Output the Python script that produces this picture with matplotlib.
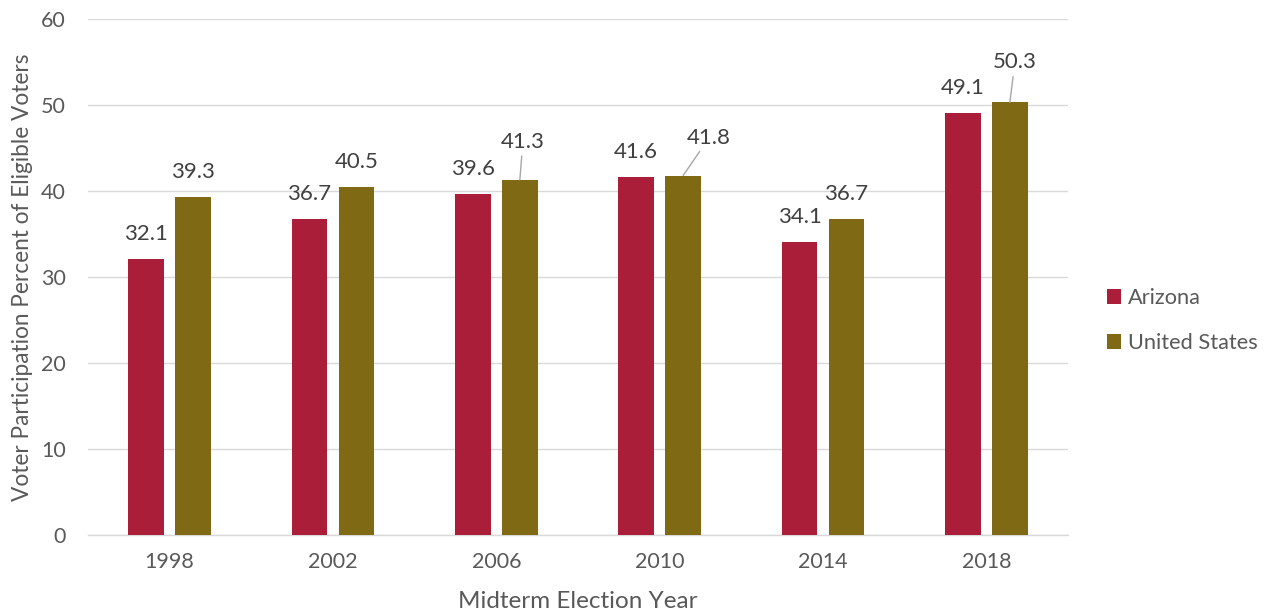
import matplotlib.pyplot as plt
import numpy as np

plt.rcParams['font.family'] = ['Lato', 'DejaVu Sans']

years = ['1998', '2002', '2006', '2010', '2014', '2018']
arizona = [32.1, 36.7, 39.6, 41.6, 34.1, 49.1]
united_states = [39.3, 40.5, 41.3, 41.8, 36.7, 50.3]

# labels that sit further up and get a leader line: (series, index) -> pixel offset
leaders = {('us', 2): (3, 38), ('us', 3): (26, 38), ('us', 5): (5, 40)}

az_color = '#AB1E3A'
us_color = '#7F6914'
text_color = '#595959'
grid_color = '#D9D9D9'

fig = plt.figure(figsize=(12.66, 6.13), dpi=100)
ax = fig.add_axes([88 / 1266, 78 / 613, 980 / 1266, 516 / 613])

x = np.arange(len(years))
w = 0.22
off = 0.144
bars_az = ax.bar(x - off, arizona, w, color=az_color, label='Arizona', zorder=3)
bars_us = ax.bar(x + off, united_states, w, color=us_color, label='United States', zorder=3)

for key, bars, vals in (('az', bars_az, arizona), ('us', bars_us, united_states)):
    for i, (b, v) in enumerate(zip(bars, vals)):
        cx = b.get_x() + b.get_width() / 2
        if (key, i) in leaders:
            dx, dy = leaders[(key, i)]
            ax.annotate(f'{v}', (cx, v), xytext=(dx * 0.72, dy * 0.72),
                        textcoords='offset points', ha='center', va='center',
                        fontsize=16, color='#404040',
                        arrowprops=dict(arrowstyle='-', color='#A6A6A6', lw=1,
                                        shrinkA=1, shrinkB=0))
        else:
            ax.annotate(f'{v}', (cx, v), xytext=(0, 25 * 0.72),
                        textcoords='offset points', ha='center', va='center',
                        fontsize=16, color='#404040')

ax.set_xlim(-0.5, len(years) - 0.5)
ax.set_ylim(0, 60)
ax.set_yticks(range(0, 61, 10))
ax.set_xticks(x)
ax.set_xticklabels(years)
ax.yaxis.grid(True, color=grid_color, lw=1, zorder=0)
ax.set_axisbelow(True)
for s in ('top', 'right', 'left'):
    ax.spines[s].set_visible(False)
ax.spines['bottom'].set_color(grid_color)
ax.spines['bottom'].set_linewidth(1)
ax.tick_params(axis='both', length=0, labelsize=15.5, colors=text_color)
ax.tick_params(axis='x', pad=12)
ax.tick_params(axis='y', pad=16)

ax.set_xlabel('Midterm Election Year', fontsize=17.5, color=text_color, labelpad=14)
ax.set_ylabel('Voter Participation Percent of Eligible Voters', fontsize=16.3,
              color=text_color, labelpad=6)

leg = ax.legend(loc='center left', bbox_to_anchor=(1.02, 0.415), frameon=False,
                fontsize=15.7, handlelength=0.65, handleheight=0.65, handletextpad=0.3,
                labelspacing=1.15, labelcolor=text_color)

fig.savefig('out.png', dpi=100)
